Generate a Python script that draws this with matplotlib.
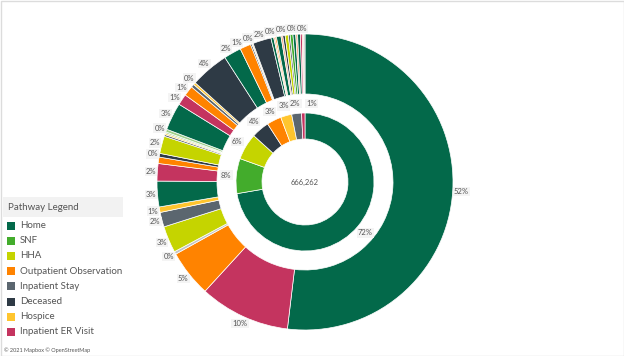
import matplotlib
matplotlib.use('Agg')
import matplotlib.pyplot as plt
from matplotlib.patches import Rectangle
import numpy as np

plt.rcParams['font.family'] = ['Lato', 'DejaVu Sans']

total_patients = '666,262'

# first pathway (inner ring), share in %
pathways = ['Home', 'SNF', 'HHA', 'Deceased', 'Outpatient Observation',
            'Hospice', 'Inpatient Stay', 'Inpatient ER Visit']
pathway_share = [72.3, 8.2, 6.2, 4.2, 3.4, 2.6, 2.3, 0.8]
pathway_labels = ['72%', '8%', '6%', '4%', '3%', '3%', '2%', '1%']

legend_order = ['Home', 'SNF', 'HHA', 'Outpatient Observation', 'Inpatient Stay',
                'Deceased', 'Hospice', 'Inpatient ER Visit']

# second pathway (outer ring), grouped by first pathway, share in %
outer_cats = [
    # Home
    'Home', 'Inpatient ER Visit', 'Outpatient Observation', 'Silver', 'HHA', 'Inpatient Stay', 'Hospice',
    # SNF
    'Home', 'Inpatient ER Visit', 'Outpatient Observation', 'Deceased', 'HHA', 'Inpatient Stay', 'Hospice', 'Light',
    # HHA
    'Light', 'Home', 'Inpatient ER Visit', 'Outpatient Observation', 'Inpatient Stay', 'Hospice',
    # Deceased
    'Deceased',
    # Outpatient Observation
    'Home', 'Outpatient Observation', 'Deceased', 'Cream',
    # Hospice
    'Deceased', 'Home', 'Peach', 'Outpatient Observation',
    # Inpatient Stay
    'Home', 'Peach', 'Deceased', 'HHA', 'Inpatient Stay', 'SNF', 'Home', 'Peach',
    # Inpatient ER Visit
    'Home', 'Inpatient ER Visit', 'Peach', 'Silver',
]
outer_share = [
    51.9, 9.9, 5.1, 0.3, 2.9, 1.6, 0.6,
    2.8, 1.9, 0.7, 0.4, 1.9, 0.2, 0.15, 0.15,
    0.3, 3.0, 1.2, 1.1, 0.35, 0.25,
    4.2,
    1.9, 1.2, 0.15, 0.15,
    2.0, 0.3, 0.15, 0.15,
    0.5, 0.2, 0.25, 0.35, 0.2, 0.3, 0.3, 0.2,
    0.3, 0.2, 0.15, 0.15,
]
outer_labels = [
    '52%', '10%', '5%', '0%', '3%', '2%', '1%',
    '3%', '2%', '', '0%', '2%', '', '', '',
    '0%', '3%', '1%', '1%', '0%', '',
    '4%',
    '2%', '1%', '0%', '',
    '2%', '0%', '', '',
    '0%', '', '', '0%', '', '', '', '',
    '0%', '', '', '',
]

colors = {
    'Home': '#03694a',
    'SNF': '#43ac2c',
    'HHA': '#c5d400',
    'Outpatient Observation': '#ff8300',
    'Inpatient Stay': '#5b666f',
    'Deceased': '#2e3a45',
    'Hospice': '#ffc52e',
    'Inpatient ER Visit': '#c4345f',
    'Peach': '#f4a67e',
    'Cream': '#efe5c4',
    'Light': '#9fd08a',
    'Silver': '#c4c4c4',
}

fig = plt.figure(figsize=(6.24, 3.56), dpi=100)

# background canvas in pixel coordinates for legend, footer and frame
bg = fig.add_axes([0, 0, 1, 1])
bg.set_xlim(0, 624)
bg.set_ylim(356, 0)
bg.axis('off')
bg.add_patch(Rectangle((0.5, 0.5), 623, 355, fill=False, ec='#dcdcdc', lw=1))

bg.add_patch(Rectangle((3, 197), 120, 20, fc='#f2f2f2', ec='none'))
bg.text(8, 207.5, 'Pathway Legend', fontsize=7, color='#555555', va='center')
for i, name in enumerate(legend_order):
    y = 225.5 + i * 15.2
    bg.add_patch(Rectangle((7, y - 4), 8, 8, fc=colors[name], ec='none'))
    bg.text(20, y, name, fontsize=7, color='#555555', va='center')

bg.text(4, 350, '\u00a9 2021 Mapbox \u00a9 OpenStreetMap', fontsize=4, color='#555555', va='center')

# sunburst, 1 data unit = 1 pixel
ax = fig.add_axes([145 / 624, 14 / 356, 320 / 624, 320 / 356])
outer_wedges, _ = ax.pie(outer_share, radius=148, colors=[colors[c] for c in outer_cats],
                         startangle=90, counterclock=False,
                         wedgeprops=dict(width=60, edgecolor='white', linewidth=0.5))
inner_wedges, _ = ax.pie(pathway_share, radius=69, colors=[colors[c] for c in pathways],
                         startangle=90, counterclock=False,
                         wedgeprops=dict(width=26, edgecolor='white', linewidth=0.5))
ax.set_xlim(-160, 160)
ax.set_ylim(-160, 160)
ax.set_aspect('equal')
ax.axis('off')

box = dict(boxstyle='square,pad=0.15', fc='#f3f3f3', ec='none', alpha=0.9)

# outer labels: start at slice middle, then push neighbours apart a little
labs = [(np.deg2rad((w.theta1 + w.theta2) / 2), lab)
        for w, lab in zip(outer_wedges, outer_labels) if lab]
angs = [a for a, _ in labs]
texts = [t for _, t in labs]
for _ in range(80):
    for i in range(1, len(angs)):
        a0, a1 = angs[i - 1], angs[i]
        m = (a0 + a1) / 2
        tw = 4.2 * max(len(texts[i]), len(texts[i - 1]))
        need = (tw * abs(np.sin(m)) + 7 * abs(np.cos(m)) + 1.5) / 155
        gap = a0 - a1
        if gap < need:
            d = (need - gap) / 2
            angs[i - 1] += d
            angs[i] -= d

for a, lab in zip(angs, texts):
    cx, cy = np.cos(a), np.sin(a)
    tw = 4.2 * len(lab)
    r = 150 + 0.5 * (tw * abs(cx) + 7 * abs(cy))
    ax.text(r * cx, r * cy, lab, fontsize=5.5, color='#555555', ha='center', va='center', bbox=box)

# Tableau pushes the tiny last label aside
inner_nudge = [0, 0, 0, 0, 0, 0, 0, -6]
for w, lab, nd in zip(inner_wedges, pathway_labels, inner_nudge):
    a = np.deg2rad((w.theta1 + w.theta2) / 2 + nd)
    ax.text(79 * np.cos(a), 79 * np.sin(a), lab, fontsize=5.5, color='#555555',
            ha='center', va='center', bbox=box)

ax.text(0, 0, total_patients, fontsize=5.5, color='#555555', ha='center', va='center')

fig.savefig('out.png', dpi=100)
